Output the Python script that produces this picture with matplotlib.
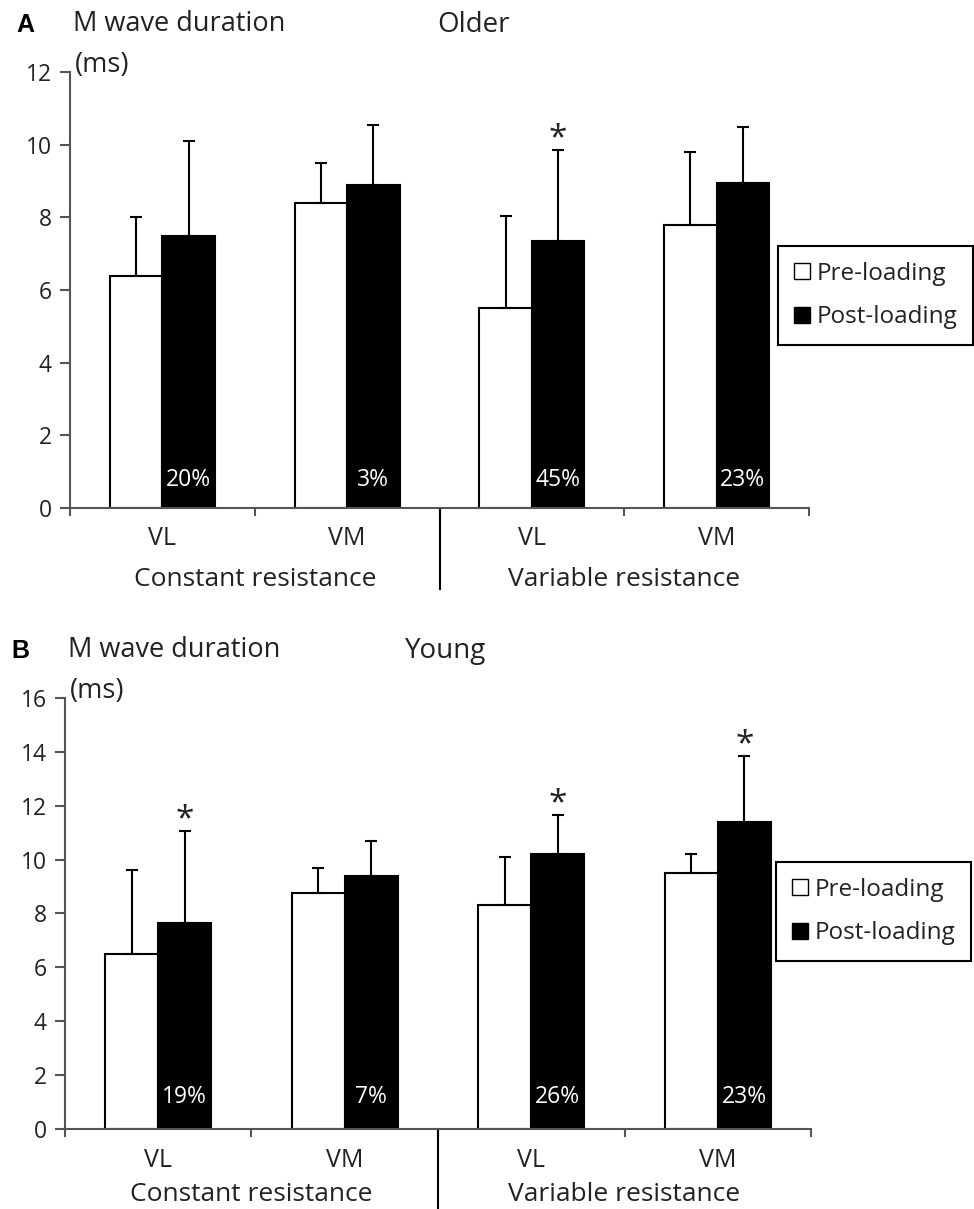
import numpy as np
import matplotlib as mpl
mpl.use('Agg')
import matplotlib.pyplot as plt
from matplotlib.patches import Patch

plt.rcParams['font.family'] = ['Open Sans', 'DejaVu Sans']

muscles = ['VL', 'VM', 'VL', 'VM']
groups = ['Constant resistance', 'Variable resistance']

# panel A - older
older_pre = [6.4, 8.4, 5.5, 7.8]
older_pre_sd = [1.6, 1.1, 2.55, 2.0]
older_post = [7.5, 8.9, 7.35, 8.95]
older_post_sd = [2.6, 1.65, 2.5, 1.55]
older_pct = ['20%', '3%', '45%', '23%']
older_sig = [False, False, True, False]

# panel B - young
young_pre = [6.5, 8.75, 8.3, 9.5]
young_pre_sd = [3.1, 0.95, 1.8, 0.7]
young_post = [7.65, 9.4, 10.2, 11.4]
young_post_sd = [3.4, 1.3, 1.45, 2.45]
young_pct = ['19%', '7%', '26%', '23%']
young_sig = [True, False, True, True]

txt = '#222222'
axc = '#555555'

fig = plt.figure(figsize=(9.74, 12.09), dpi=100)


def panel(rect, pre, pre_sd, post, post_sd, pct, sig, ymax, pct_y, letter, title, title_x,
          lab_x, leg_box, lab_pad, grp_y, sep_y):
    ax = fig.add_axes(rect)
    x = np.arange(len(muscles))
    w = 0.284
    ek = dict(ecolor='black', elinewidth=1.5, capsize=4, capthick=1.5)
    ax.bar(x - w/2, pre, w, color='white', edgecolor='black', linewidth=1.5,
           yerr=[np.zeros(4), pre_sd], error_kw=ek)
    ax.bar(x + w/2, post, w, color='black', edgecolor='black', linewidth=1.5,
           yerr=[np.zeros(4), post_sd], error_kw=ek)
    for i in range(4):
        ax.text(x[i] + w/2, pct_y, pct[i], color='white', ha='center', va='center', fontsize=16.5)
        if sig[i]:
            ax.annotate('*', (x[i] + w/2, post[i] + post_sd[i]), xytext=(0, 2),
                        textcoords='offset points', ha='center', va='baseline',
                        fontsize=24, color=txt)
    ax.set_xlim(-0.5, 3.5)
    ax.set_ylim(0, ymax)
    ax.set_yticks(np.arange(0, ymax + 1, 2))
    ax.set_xticks([-0.5, 0.5, 1.5, 2.5, 3.5])
    ax.set_xticklabels([])
    ax.set_xticks(x, minor=True)
    ax.set_xticklabels(muscles, minor=True)
    ax.tick_params(axis='x', which='minor', length=0, pad=lab_pad, labelsize=18, labelcolor=txt)
    ax.tick_params(axis='x', which='major', length=6, width=1.5, color=axc, direction='out')
    ax.tick_params(axis='y', length=7, width=1.5, color=axc, pad=6, labelsize=16.5, labelcolor=txt)
    for s in ['top', 'right']:
        ax.spines[s].set_visible(False)
    for s in ['left', 'bottom']:
        ax.spines[s].set_color(axc)
        ax.spines[s].set_linewidth(1.5)
    # separator between the two resistance types
    ax.plot([1.5, 1.5], [0, sep_y], transform=ax.get_xaxis_transform(), color='black',
            linewidth=1.5, clip_on=False)
    for gx, g in zip([0.5, 2.5], groups):
        ax.text(gx, grp_y, g, transform=ax.get_xaxis_transform(), ha='center', va='center',
                fontsize=19, color=txt)
    top = rect[1] + rect[3]
    fig.text(lab_x - 0.058, top + 0.039, letter, fontsize=18, fontweight='bold', va='center',
             family=['Liberation Sans', 'DejaVu Sans'])
    fig.text(lab_x, top + 0.040, 'M wave duration', fontsize=19.5, color=txt, va='center')
    fig.text(lab_x + 0.002, top + 0.006, '(ms)', fontsize=19.5, color=txt, va='center')
    fig.text(title_x, top + 0.039, title, fontsize=20, color=txt, va='center')
    handles = [Patch(facecolor='white', edgecolor='black', linewidth=1),
               Patch(facecolor='black', edgecolor='black', linewidth=1)]
    leg = fig.legend(handles, ['Pre-loading', 'Post-loading'], loc='center',
                     bbox_to_anchor=leg_box, fontsize=17.5, handlelength=0.65, handleheight=0.65,
                     handletextpad=0.3, labelspacing=0.8, borderpad=0.65, fancybox=False,
                     edgecolor='black', framealpha=1)
    leg.get_frame().set_linewidth(1.5)
    for t in leg.get_texts():
        t.set_color(txt)
    return ax


panel([0.0719, 0.5798, 0.7587, 0.3606], older_pre, older_pre_sd, older_post, older_post_sd,
      older_pct, older_sig, 12, 0.77, 'A', 'Older', 0.449, 0.075, (0.899, 0.7556),
      13, -0.165, -0.185)
panel([0.0667, 0.0662, 0.766, 0.3565], young_pre, young_pre_sd, young_post, young_post_sd,
      young_pct, young_sig, 16, 1.19, 'B', 'Young', 0.416, 0.070, (0.897, 0.246),
      14, -0.151, -0.19)

fig.savefig('out.png', dpi=100)
